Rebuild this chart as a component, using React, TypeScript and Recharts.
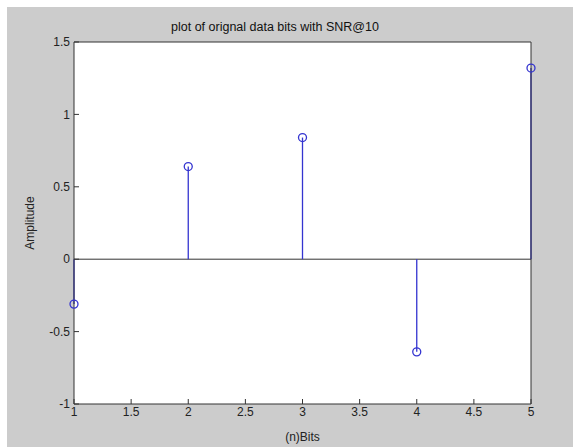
import React from 'react';
import {
  ComposedChart,
  CartesianGrid,
  XAxis,
  YAxis,
  Scatter,
  ReferenceLine,
} from 'recharts';

// stem values
const bitIndex = [1, 2, 3, 4, 5];
const amplitude = [-0.31, 0.64, 0.84, -0.64, 1.32];

const xTicks = [1, 1.5, 2, 2.5, 3, 3.5, 4, 4.5, 5];
const yTicks = [-1, -0.5, 0, 0.5, 1, 1.5];

const data = bitIndex.map((n, i) => ({ n, amp: amplitude[i] }));

const FONT = '"Liberation Sans", Arial, Helvetica, sans-serif';
const STEM = '#3434d0';
const AXIS = '#333333';
const tickStyle = { fill: '#222', fontSize: 12, fontFamily: FONT };

const StemHead = (props: any) => {
  const { cx, cy } = props;
  if (cx == null || cy == null) return null;
  return <circle cx={cx} cy={cy} r={4} fill="none" stroke={STEM} strokeWidth={1.3} />;
};

const Nothing = () => <g />;

export default function App() {
  return (
    <div style={{ position: 'fixed', left: 0, top: 0, width: 573, height: 447, background: '#fff' }}>
      <div style={{ position: 'absolute', left: 7, top: 7, width: 566, height: 440, background: '#cccccc' }}>
        <div
          style={{
            position: 'absolute',
            left: 268 - 150,
            width: 300,
            top: 13,
            textAlign: 'center',
            fontFamily: FONT,
            fontSize: 12.5,
            color: '#111',
          }}
        >
          plot of orignal data bits with SNR@10
        </div>
        <ComposedChart
          width={566}
          height={440}
          data={data}
          margin={{ top: 34, right: 41, bottom: 0, left: 0 }}
        >
          <CartesianGrid fill="#ffffff" horizontal={false} vertical={false} />
          <ReferenceLine
            segment={[{ x: 1, y: 0 }, { x: 5, y: 0 }]}
            stroke={AXIS}
            strokeWidth={1}
          />
          {bitIndex.map((n, i) => (
            <ReferenceLine
              key={n}
              segment={[{ x: n, y: 0 }, { x: n, y: amplitude[i] }]}
              stroke={STEM}
              strokeWidth={1.3}
              ifOverflow="visible"
            />
          ))}
          <XAxis
            dataKey="n"
            type="number"
            domain={[1, 5]}
            ticks={xTicks}
            interval={0}
            height={43}
            tickSize={-5}
            tickMargin={8}
            tick={tickStyle}
            axisLine={{ stroke: AXIS }}
            tickLine={{ stroke: AXIS }}
            label={{ value: '(n)Bits', position: 'insideBottom', offset: 6, style: { fill: '#222', fontSize: 12, fontFamily: FONT } }}
          />
          <XAxis
            xAxisId="top"
            dataKey="n"
            orientation="top"
            type="number"
            domain={[1, 5]}
            ticks={xTicks}
            interval={0}
            height={1}
            tickSize={-5}
            tick={false}
            axisLine={{ stroke: AXIS }}
            tickLine={{ stroke: AXIS }}
          />
          <YAxis
            type="number"
            domain={[-1, 1.5]}
            ticks={yTicks}
            interval={0}
            width={67}
            tickSize={-5}
            tickMargin={9}
            tick={tickStyle}
            axisLine={{ stroke: AXIS }}
            tickLine={{ stroke: AXIS }}
            label={{ value: 'Amplitude', angle: -90, position: 'insideLeft', offset: 23, style: { textAnchor: 'middle', fill: '#222', fontSize: 12, fontFamily: FONT } }}
          />
          <YAxis
            yAxisId="right"
            orientation="right"
            type="number"
            domain={[-1, 1.5]}
            ticks={yTicks}
            interval={0}
            width={1}
            tickSize={-5}
            tick={false}
            axisLine={{ stroke: AXIS }}
            tickLine={{ stroke: AXIS }}
          />
          {/* binds the top/right box axes so they get drawn */}
          <Scatter
            xAxisId="top"
            yAxisId="right"
            dataKey="amp"
            shape={<Nothing />}
            isAnimationActive={false}
          />
          <Scatter dataKey="amp" shape={<StemHead />} isAnimationActive={false} />
        </ComposedChart>
      </div>
    </div>
  );
}
